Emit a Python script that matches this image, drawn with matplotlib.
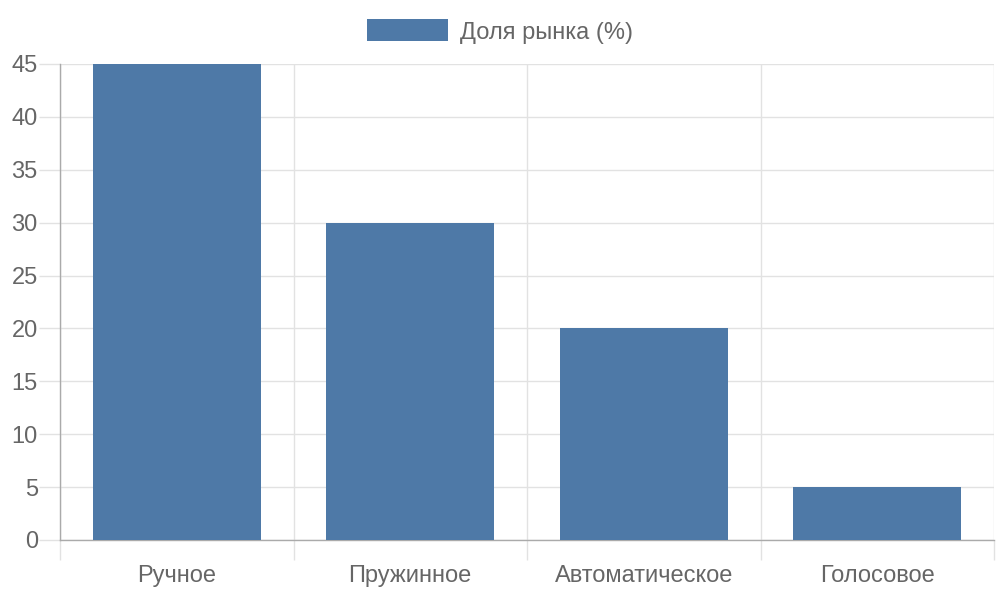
import matplotlib
matplotlib.use("Agg")
import matplotlib.pyplot as plt
import numpy as np

categories = ["Ручное", "Пружинное", "Автоматическое", "Голосовое"]
values = [45, 30, 20, 5]
series_name = "Доля рынка (%)"
yticks = [0, 5, 10, 15, 20, 25, 30, 35, 40, 45]

plt.rcParams['font.family'] = ['Liberation Sans', 'DejaVu Sans']
BAR = "#4e79a7"
GRID = "#e2e2e2"
AXIS = "#aaaaaa"
TXT = "#666666"
FS = 17

fig = plt.figure(figsize=(10, 6), dpi=100)
ax = fig.add_axes([0.06, 0.1, 0.934, (540 - 64) / 600])
x = np.arange(len(categories))
ax.bar(x, values, width=0.72, color=BAR, label=series_name, zorder=3)

ax.set_xlim(-0.5, len(categories) - 0.5)
ax.set_ylim(0, 45)
ax.set_yticks(yticks)
ax.set_xticks(x)
ax.set_xticklabels(categories)
ax.set_xticks(np.arange(len(categories) + 1) - 0.5, minor=True)

ax.tick_params(axis='x', which='major', length=0, pad=18, labelsize=FS, labelcolor=TXT)
ax.tick_params(axis='x', which='minor', length=14.4, width=1, color=GRID)
ax.tick_params(axis='y', which='major', length=15, width=1, color=GRID, pad=1, labelsize=FS, labelcolor=TXT)

ax.grid(True, axis='y', which='major', color=GRID, linewidth=1, zorder=0)
ax.grid(True, axis='x', which='minor', color=GRID, linewidth=1, zorder=0)
ax.set_axisbelow(True)

# darker tick marks on the axis lines themselves
ax.yaxis.get_major_ticks()[0].tick1line.set_color(AXIS)
ax.xaxis.get_minor_ticks()[0].tick1line.set_color(AXIS)

for s in ['top', 'right']:
    ax.spines[s].set_visible(False)
for s in ['left', 'bottom']:
    ax.spines[s].set_color(AXIS)
    ax.spines[s].set_linewidth(1)

leg = fig.legend(loc='center', bbox_to_anchor=(0.5, 1 - 31.5 / 600), frameon=False,
                 fontsize=FS, handlelength=3.4, handleheight=1.05, handletextpad=0.5,
                 labelcolor=TXT, borderpad=0)

fig.savefig("out.png", dpi=100)
